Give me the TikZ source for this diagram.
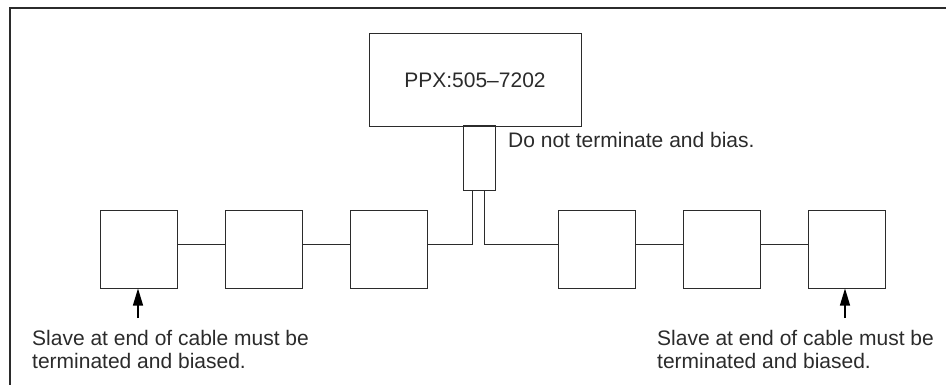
\documentclass[tikz,border=0pt]{standalone}
\usepackage{fontspec}
\setmainfont{Liberation Sans}
\usepackage{xcolor}
\usepackage{tikz}
\usetikzlibrary{arrows.meta,positioning,calc}
\definecolor{netink}{HTML}{2B2B2B}
\tikzset{
    slavebox/.style={draw=netink, line width=1pt,
        minimum width=77pt, minimum height=77pt, inner sep=0pt},
    hostbox/.style={draw=netink, line width=1pt,
        minimum width=212pt, minimum height=93pt, inner sep=0pt},
    tapbox/.style={draw=netink, line width=1pt,
        minimum width=32pt, minimum height=65pt, inner sep=0pt},
    notetext/.style={font=\fontsize{21}{23}\selectfont, color=netink,
        align=left, inner sep=0pt},
    busline/.style={draw=netink, line width=1pt},
    endarrow/.style={draw=black, line width=1.2pt,
        -{Triangle[length=17pt, width=10pt]}},
}

\begin{document}
\begin{tikzpicture}[x=1pt, y=-1pt]

    \useasboundingbox (0,0) rectangle (946,385);

    % ── Frame (top and left edge) ──────────────────────────────────────────
    \draw[netink, line width=2.5pt] (10,385) -- (10,8) -- (946,8);

    % ── Master and tap ─────────────────────────────────────────────────────
    \node[hostbox, notetext] (ppx) at (475,80.5) {PPX:505--7202};
    \node[tapbox] (tap) at (479,158.5) {};
    \node[notetext, anchor=base west] (tapnote) at (508,148)
        {Do not terminate and bias.};

    % ── Slaves, left branch ────────────────────────────────────────────────
    \node[slavebox] (s1) at (138.5,249.5) {};
    \node[slavebox, right=47pt of s1] (s2) {};
    \node[slavebox, right=47pt of s2] (s3) {};

    % ── Slaves, right branch ───────────────────────────────────────────────
    \node[slavebox] (s4) at (596.5,249.5) {};
    \node[slavebox, right=47pt of s4] (s5) {};
    \node[slavebox, right=47pt of s5] (s6) {};

    % ── Cable ──────────────────────────────────────────────────────────────
    \coordinate (busL) at (472,244);
    \coordinate (busR) at (484,244);
    \draw[busline] (s1.east |- busL) -- (s2.west |- busL);
    \draw[busline] (s2.east |- busL) -- (s3.west |- busL);
    \draw[busline] (s3.east |- busL) -- (busL) -- (busL |- tap.south);
    \draw[busline] (s4.west |- busR) -- (busR) -- (busR |- tap.south);
    \draw[busline] (s4.east |- busR) -- (s5.west |- busR);
    \draw[busline] (s5.east |- busR) -- (s6.west |- busR);

    % ── End-of-cable notes ─────────────────────────────────────────────────
    \coordinate (tailL) at (138,318);
    \coordinate (tailR) at (845,318);
    \draw[endarrow] (tailL) -- (tailL |- s1.south);
    \draw[endarrow] (tailR) -- (tailR |- s6.south);
    \node[notetext, anchor=north west] (noteL) at (32,330)
        {Slave at end of cable must be\\terminated and biased.};
    \node[notetext, anchor=north west] (noteR) at (657,330)
        {Slave at end of cable must be\\terminated and biased.};

\end{tikzpicture}
\end{document}
